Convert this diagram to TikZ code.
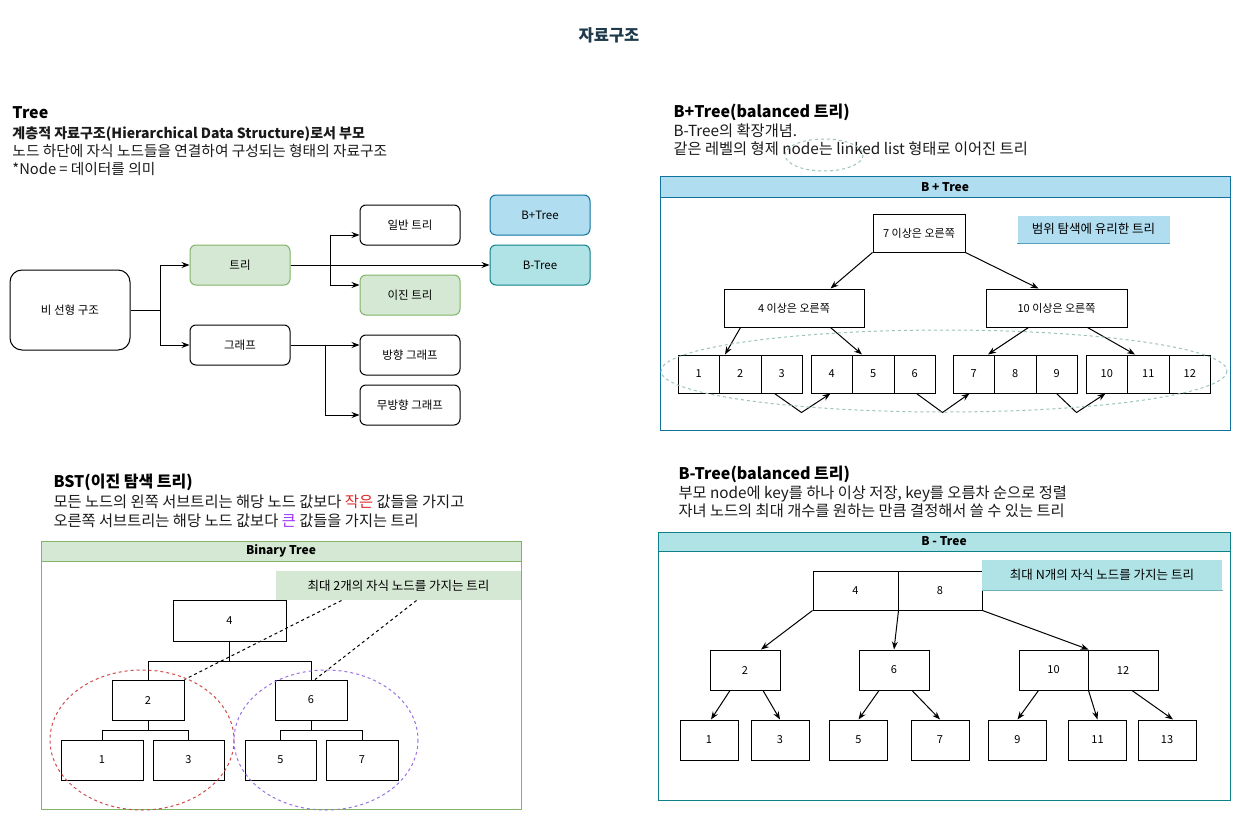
\documentclass[tikz,border=0pt]{standalone}
\usepackage{fontspec}
\setmainfont{Noto Sans CJK KR}
\usetikzlibrary{positioning,arrows.meta}

\definecolor{titleColor}{RGB}{31,58,74}
\definecolor{textColor}{RGB}{26,26,26}
\definecolor{greenFill}{HTML}{D5E8D4}
\definecolor{greenLine}{HTML}{82B366}
\definecolor{blueFill}{HTML}{B1DDF0}
\definecolor{blueLine}{HTML}{10739E}
\definecolor{tealFill}{HTML}{B0E3E6}
\definecolor{tealLine}{HTML}{0E8088}
\definecolor{smallRed}{HTML}{E02424}
\definecolor{bigPurple}{HTML}{9933FF}
\definecolor{redRing}{HTML}{D24B4B}
\definecolor{purpleRing}{HTML}{9B72E3}
\definecolor{listRing}{HTML}{9DC3BC}

\tikzstyle{sketch} = [x = 1pt, y = -1pt, line width = 1pt]
\tikzstyle{bodyText} = [anchor = base west, inner sep = 0pt, text = textColor, font = \fontsize{15.3}{18}\selectfont]
\tikzstyle{treeText} = [bodyText, font = \fontsize{14.7}{18}\selectfont]
\tikzstyle{boldBody} = [bodyText, font = \fontsize{14}{18}\selectfont\bfseries]
\tikzstyle{headText} = [anchor = base west, inner sep = 0pt, text = black, font = \fontsize{16}{20}\selectfont\bfseries]
\tikzstyle{frameTitle} = [inner sep = 0pt, font = \fontsize{12}{14}\selectfont\bfseries]
\tikzstyle{roundBox} = [draw = black, fill = white, rounded corners = 6pt, minimum width = 100pt, minimum height = 40pt, inner sep = 0pt, font = \fontsize{11.5}{14}\selectfont]
\tikzstyle{greenBox} = [roundBox, draw = greenLine, fill = greenFill]
\tikzstyle{plainBox} = [draw = black, fill = white, inner sep = 0pt, font = \fontsize{11}{13}\selectfont]
\tikzstyle{cellBox} = [plainBox, minimum width = 41.5pt, minimum height = 38pt]
\tikzstyle{noteText} = [inner sep = 0pt, font = \fontsize{12.5}{15}\selectfont]
\tikzstyle{arrowLine} = [-{Stealth[length = 8pt, width = 6pt]}]
\tikzstyle{ringLine} = [dash pattern = on 3pt off 3pt]

% three linked cells of the B+Tree leaf level
\newcommand{\cellGroup}[2]{
  \foreach \k in {1,2,3} {
    \pgfmathtruncatemacro{\cellNumber}{3 * #1 + \k}
    \node [cellBox] (c\cellNumber) at (#2 + 41.5 * \k - 20.75, 374) {\cellNumber};
  }
}

\begin{document}
\begin{tikzpicture}[sketch]
  \fill [white] (0,0) rectangle (1241,821);
  \useasboundingbox (0,0) rectangle (1241,821);

  \node [inner sep = 0pt, text = titleColor, font = \fontsize{16.5}{18}\selectfont\bfseries] (mainTitle) at (609,35) {자료구조};

  % Tree
  \node [headText] (treeHead) at (12,119) {Tree};
  \node [boldBody] (treeLineA) at (12,139) {계층적 자료구조(Hierarchical Data Structure)로서 부모};
  \node [treeText] (treeLineB) at (12,157) {노드 하단에 자식 노드들을 연결하여 구성되는 형태의 자료구조};
  \node [treeText] (treeLineC) at (12,175) {*Node = 데이터를 의미};

  \node [roundBox, rounded corners = 12pt, minimum width = 120pt, minimum height = 80pt] (nonLinear) at (70,310) {비 선형 구조};
  \node [greenBox] (treeNode) at (240,265) {트리};
  \node [roundBox] (graphNode) at (240,345) {그래프};
  \node [roundBox] (normalTree) at (410,225) {일반 트리};
  \node [greenBox] (binaryTree) at (410,295) {이진 트리};
  \node [roundBox] (directedGraph) at (410,355) {방향 그래프};
  \node [roundBox] (undirectedGraph) at (410,405) {무방향 그래프};
  \node [roundBox, draw = blueLine, fill = blueFill] (bPlusBox) at (540,215) {B+Tree};
  \node [roundBox, draw = tealLine, fill = tealFill] (bBox) at (540,265) {B-Tree};

  \draw [arrowLine] (nonLinear.east) -- ++(30,0) |- (treeNode.west);
  \draw [arrowLine] (nonLinear.east) -- ++(30,0) |- (graphNode.west);
  \draw [arrowLine] (treeNode.east) -- (bBox.west);
  \draw [arrowLine] (treeNode.east) -- ++(40,0) |- ([yshift = -10pt]normalTree.west);
  \draw [arrowLine] (treeNode.east) -- ++(40,0) |- ([yshift = 10pt]binaryTree.west);
  \draw [arrowLine] (graphNode.east) -- ([yshift = 10pt]directedGraph.west);
  \draw [arrowLine] (graphNode.east) -- ++(35,0) |- ([yshift = -10pt]undirectedGraph.west);

  % B+Tree
  \node [headText] (bPlusHead) at (673,118) {B+Tree(balanced 트리)};
  \node [bodyText] (bPlusLineA) at (673,137) {B-Tree의 확장개념.};
  \node [bodyText] (bPlusLineB) at (673,155) {같은 레벨의 형제 node는 linked list 형태로 이어진 트리};
  \draw [listRing, ringLine] (824,155) ellipse [x radius = 39, y radius = 16];

  \draw [blueLine] (660,177) rectangle (1230,430);
  \filldraw [fill = blueFill, draw = blueLine] (660,177) rectangle (1230,197);
  \node [frameTitle] (bPlusTitle) at (945,187) {B + Tree};

  \node [plainBox, minimum width = 92pt, minimum height = 38pt] (rootSeven) at (919,233) {7 이상은 오른쪽};
  \node [noteText, fill = blueFill, minimum width = 152pt, minimum height = 27pt] (rangeNote) at (1093.5,229) {범위 탐색에 유리한 트리};
  \draw [blueLine!70] (rangeNote.south west) -- (rangeNote.south east);
  \node [plainBox, minimum width = 140pt, minimum height = 38pt] (leftFour) at (794,308) {4 이상은 오른쪽};
  \node [plainBox, minimum width = 141pt, minimum height = 38pt] (rightTen) at (1056.5,308) {10 이상은 오른쪽};

  \cellGroup{0}{678}
  \cellGroup{1}{811}
  \cellGroup{2}{953}
  \cellGroup{3}{1086}

  \draw [arrowLine] (rootSeven.south west) -- ([xshift = -34pt]leftFour.north east);
  \draw [arrowLine] (rootSeven.south east) -- ([xshift = 53pt]rightTen.north west);
  \draw [arrowLine] ([xshift = 17pt]leftFour.south west) -- ([xshift = 6pt]c2.north west);
  \draw [arrowLine] ([xshift = -34pt]leftFour.south east) -- ([xshift = 10pt]c5.north west);
  \draw [arrowLine] ([xshift = 43pt]rightTen.south west) -- ([xshift = -7pt]c7.north east);
  \draw [arrowLine] ([xshift = -40pt]rightTen.south east) -- ([xshift = 8pt]c11.north west);

  \draw [arrowLine] ([xshift = 14pt]c3.south west) -- ++(27,19) -- ([xshift = 20pt]c4.south west);
  \draw [arrowLine] ([xshift = 23pt]c6.south west) -- ++(26,19) -- ([xshift = 17pt]c7.south west);
  \draw [arrowLine] ([xshift = 21pt]c9.south west) -- ++(20,19) -- ([xshift = 20pt]c10.south west);

  \draw [listRing, ringLine] (944,371) ellipse [x radius = 283, y radius = 41];

  % BST
  \node [headText] (bstHead) at (53,487) {BST(이진 탐색 트리)};
  \node [bodyText] (bstLineA) at (53,507) {모든 노드의 왼쪽 서브트리는 해당 노드 값보다 {\color{smallRed}작은} 값들을 가지고};
  \node [bodyText] (bstLineB) at (53,526) {오른쪽 서브트리는 해당 노드 값보다 {\color{bigPurple}큰} 값들을 가지는 트리};

  \draw [greenLine] (41,541) rectangle (521,809);
  \filldraw [fill = greenFill, draw = greenLine] (41,541) rectangle (521,561);
  \node [frameTitle] (bstTitle) at (281,551) {Binary Tree};

  \node [plainBox, minimum width = 113pt, minimum height = 41pt] (bstFour) at (229.5,620.5) {4};
  \node [noteText, fill = greenFill, minimum width = 245pt, minimum height = 29pt] (twoNote) at (398.5,585.5) {최대 2개의 자식 노드를 가지는 트리};
  \node [plainBox, minimum width = 72pt, minimum height = 40pt] (bstTwo) at (148,700) {2};
  \node [plainBox, minimum width = 72pt, minimum height = 40pt] (bstSix) at (311,700) {6};
  \node [plainBox, minimum width = 82pt, minimum height = 40pt] (bstOne) at (102,760) {1};
  \node [plainBox, minimum width = 71pt, minimum height = 40pt] (bstThree) at (188.5,760) {3};
  \node [plainBox, minimum width = 71pt, minimum height = 40pt] (bstFive) at (280.5,760) {5};
  \node [plainBox, minimum width = 72pt, minimum height = 40pt] (bstSeven) at (362,760) {7};

  \draw (bstFour.south) -- ++(0,19.5) -| (bstTwo.north);
  \draw (bstFour.south) -- ++(0,19.5) -| (bstSix.north);
  \draw (bstTwo.south) -- ++(0,10) -| (bstOne.north);
  \draw (bstTwo.south) -- ++(0,10) -| (bstThree.north);
  \draw (bstSix.south) -- ++(0,10) -| (bstFive.north);
  \draw (bstSix.south) -- ++(0,10) -| (bstSeven.north);

  \draw [ringLine] ([xshift = 66pt]twoNote.south west) -- (bstTwo.north east);
  \draw [ringLine] ([xshift = 141pt]twoNote.south west) -- ([xshift = 4pt]bstSix.north);

  \draw [redRing, ringLine] (142,740) ellipse [x radius = 92, y radius = 70];
  \draw [purpleRing, ringLine] (326,740) ellipse [x radius = 92, y radius = 70];

  % B-Tree
  \node [headText] (bHead) at (678,479) {B-Tree(balanced 트리)};
  \node [bodyText] (bLineA) at (678,498) {부모 node에 key를 하나 이상 저장, key를 오름차 순으로 정렬};
  \node [bodyText] (bLineB) at (678,516) {자녀 노드의 최대 개수를 원하는 만큼 결정해서 쓸 수 있는 트리};

  \draw [tealLine] (658,532) rectangle (1230,800);
  \filldraw [fill = tealFill, draw = tealLine] (658,532) rectangle (1230,551);
  \node [frameTitle] (bTitle) at (944,541.5) {B - Tree};

  \node [plainBox, minimum width = 85pt, minimum height = 39pt] (rootFour) at (855.5,590.5) {4};
  \node [plainBox, minimum width = 84pt, minimum height = 39pt] (rootEight) at (940,590.5) {8};
  \node [noteText, fill = tealFill, minimum width = 240pt, minimum height = 30pt] (nNote) at (1102,575) {최대 N개의 자식 노드를 가지는 트리};
  \draw [tealLine!60] (nNote.south west) -- (nNote.south east);

  \node [plainBox, minimum width = 70pt, minimum height = 40pt] (bTwo) at (745,670) {2};
  \node [plainBox, minimum width = 70pt, minimum height = 40pt] (bSix) at (894,670) {6};
  \node [plainBox, minimum width = 69pt, minimum height = 40pt] (bTen) at (1053.5,670) {10};
  \node [plainBox, minimum width = 70pt, minimum height = 40pt] (bTwelve) at (1123,670) {12};

  \foreach \leafName/\leafX/\leafText in {leafOne/709/1, leafThree/780/3, leafFive/858.5/5, leafSeven/940/7, leafNine/1017.5/9, leafEleven/1097.5/11, leafThirteen/1167/13} {
    \node [plainBox, minimum width = 58pt, minimum height = 40pt] (\leafName) at (\leafX,740) {\leafText};
  }

  \draw [arrowLine] (rootFour.south west) -- ([xshift = 16pt]bTwo.north);
  \draw [arrowLine] (rootFour.south east) -- (bSix.north);
  \draw [arrowLine] (rootEight.south east) -- (bTen.north east);
  \draw [arrowLine] ([xshift = -15pt]bTwo.south) -- ([xshift = 2pt]leafOne.north);
  \draw [arrowLine] ([xshift = 18pt]bTwo.south) -- (leafThree.north);
  \draw [arrowLine] ([xshift = -15pt]bSix.south) -- (leafFive.north);
  \draw [arrowLine] ([xshift = 18pt]bSix.south) -- (leafSeven.north);
  \draw [arrowLine] ([xshift = -15pt]bTen.south) -- (leafNine.north);
  \draw [arrowLine] (bTen.south east) -- (leafEleven.north);
  \draw [arrowLine] ([xshift = 9pt]bTwelve.south) -- ([xshift = 6pt]leafThirteen.north);
\end{tikzpicture}
\end{document}
